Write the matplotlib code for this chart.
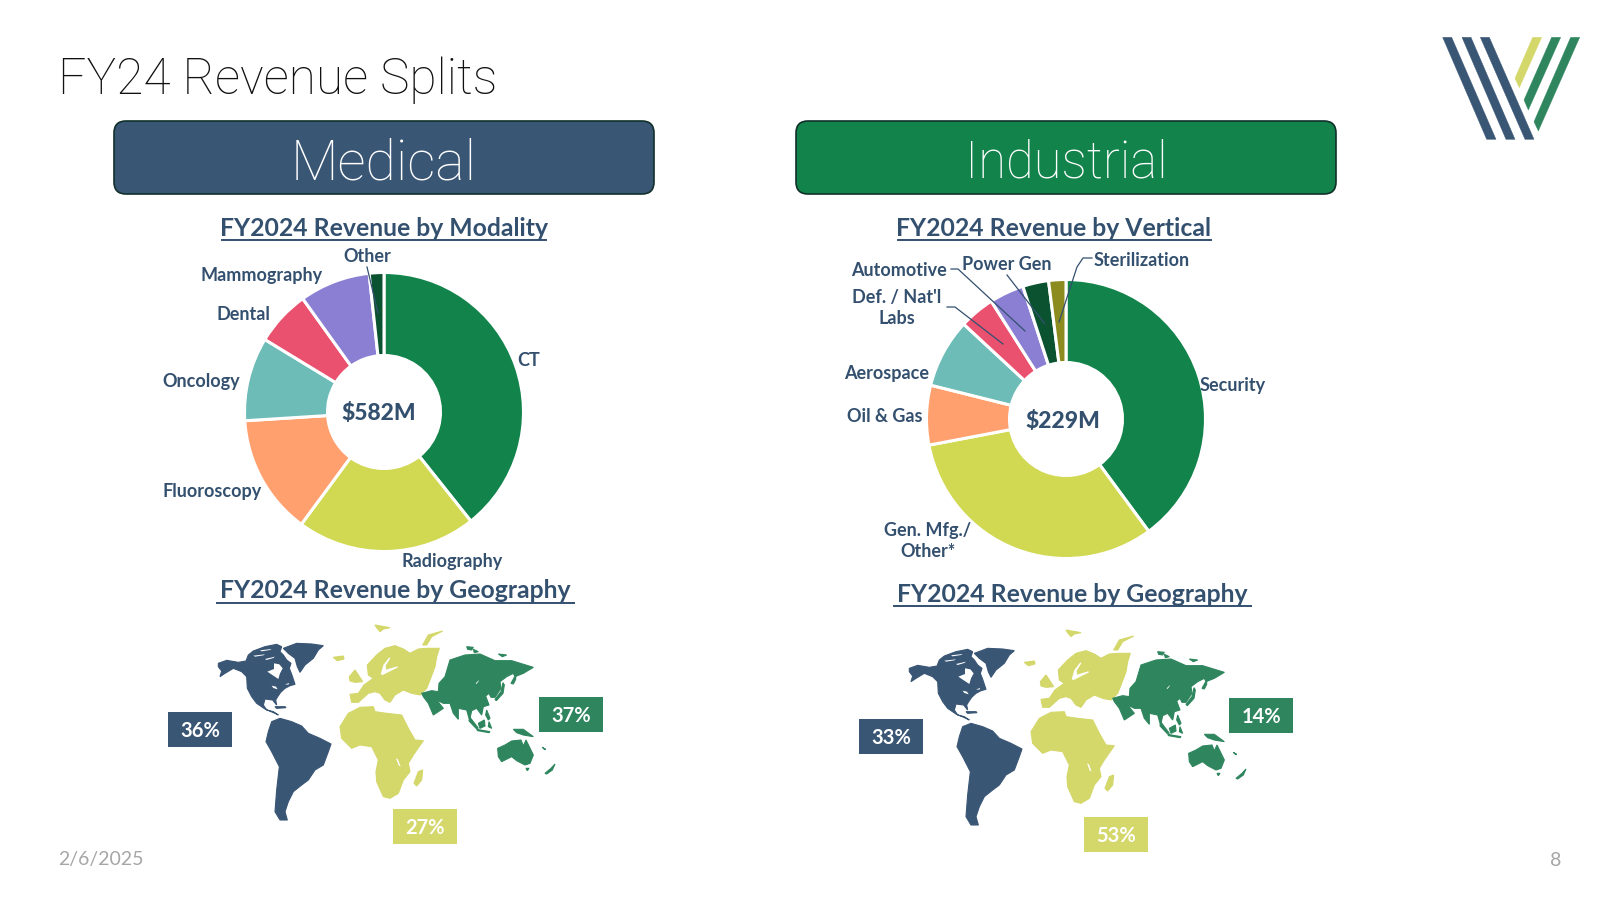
import matplotlib
matplotlib.use("Agg")
import matplotlib.pyplot as plt
from matplotlib.patches import FancyBboxPatch, Polygon, Rectangle

W, H = 1600, 900
NAVY = "#3A5675"
TEXT = "#34506F"
MAP_GREEN = "#2F865E"
MAP_YELLOW = "#D4D76A"
plt.rcParams["font.family"] = ["Lato", "DejaVu Sans"]

# donut data, share of revenue in %
med_names = ["CT", "Radiography", "Fluoroscopy", "Oncology", "Dental", "Mammography", "Other"]
med_values = [39.3, 20.8, 13.9, 9.7, 6.4, 8.2, 1.7]
med_colors = ["#12834B", "#D1D851", "#FFA06E", "#6DBCB8", "#EA516F", "#8A7FD3", "#0A5230"]

ind_names = ["Security", "Gen. Mfg./\nOther*", "Oil & Gas", "Aerospace", "Def. / Nat'l\nLabs",
             "Automotive", "Power Gen", "Sterilization"]
ind_values = [39.9, 32.1, 6.9, 8.0, 4.1, 4.0, 3.0, 2.0]
ind_colors = ["#12834B", "#D1D851", "#FFA06E", "#6DBCB8", "#EA516F", "#8A7FD3", "#0A5230", "#8B8B20"]

# label centres in pixels
med_label_xy = [(529, 361), (452, 562), (212, 492), (201, 382), (243, 315), (262, 276), (367, 256)]
ind_label_xy = [(1233, 386), (928, 541), (885, 416), (887, 374), (897, 308), (899, 271), (1007, 264), (1142, 260)]

geo_labels = ["Americas", "EMEA", "APAC"]
med_geo = [36, 27, 37]
ind_geo = [33, 53, 14]
geo_colors = [NAVY, MAP_YELLOW, MAP_GREEN]
med_geo_boxes = [(168, 712), (393, 809), (539, 697)]
ind_geo_boxes = [(859, 719), (1084, 817), (1229, 698)]

north_america = [
    [(25, 85), (50, 76), (85, 82), (108, 78), (115, 60), (130, 48), (165, 35), (200, 28), (215, 35), (210, 50),
     (220, 60), (230, 75), (243, 85), (238, 100), (245, 118), (255, 148), (240, 152), (225, 160), (212, 172),
     (203, 185), (197, 195), (200, 210), (188, 195), (165, 192), (160, 210), (170, 225), (190, 230), (205, 240),
     (195, 235), (165, 222), (140, 205), (125, 185), (112, 160), (110, 125), (95, 110), (70, 100), (45, 115),
     (30, 125), (35, 108), (25, 95)],
    [(220, 40), (260, 25), (305, 27), (340, 32), (325, 45), (310, 70), (285, 90), (270, 112), (262, 95),
     (255, 70), (235, 55)],
    [(195, 215), (225, 215), (228, 218), (200, 220)],
]
north_america_holes = [
    [(172, 110), (192, 102), (192, 85), (208, 88), (218, 100), (210, 115), (205, 132), (190, 122)],
    [(130, 62), (165, 58), (160, 61), (135, 65)],
    [(165, 72), (195, 65), (190, 69), (170, 75)],
    [(150, 46), (185, 42), (180, 45), (155, 49)],
    [(185, 152), (198, 155), (203, 163), (190, 159)],
    [(225, 148), (238, 144), (235, 149)],
]
south_america = [
    [(335, 305), (360, 295), (395, 305), (425, 318), (445, 340), (480, 355), (513, 372), (505, 395), (490, 435),
     (465, 450), (445, 480), (425, 495), (400, 515), (385, 545), (375, 575), (382, 600), (360, 600), (345, 575),
     (350, 510), (358, 440), (335, 395), (318, 365), (325, 335)],
]
europe = [
    [(30, 208), (55, 205), (72, 180), (100, 160), (85, 150), (82, 120), (110, 90), (135, 70), (165, 62), (190, 72),
     (210, 85), (235, 72), (260, 70), (298, 70), (290, 95), (285, 125), (270, 165), (260, 190), (240, 210),
     (215, 205), (190, 195), (165, 210), (150, 232), (135, 225), (120, 205), (105, 200), (85, 205), (55, 232),
     (35, 232)],
    [(28, 155), (45, 135), (55, 150), (68, 170), (45, 172), (30, 168)],
    [(248, 60), (265, 30), (308, 18), (275, 35), (260, 60)],
    [(105, 0), (150, 8), (130, 12), (120, 20), (110, 8)],
    [(-20, 97), (10, 93), (12, 102), (-8, 107)],
]
europe_holes = [
    [(122, 148), (130, 120), (148, 97), (151, 100), (137, 122), (138, 134), (172, 124), (174, 127), (148, 140),
     (128, 150)],
]
africa = [
    [(540, 320), (565, 280), (600, 262), (640, 260), (645, 275), (680, 280), (725, 285), (745, 325), (765, 360),
     (790, 362), (760, 405), (745, 430), (750, 455), (730, 480), (715, 520), (690, 535), (670, 530), (650, 485),
     (648, 455), (655, 420), (635, 380), (600, 375), (575, 385), (545, 355)],
    [(775, 455), (788, 450), (785, 480), (770, 498), (762, 490)],
]
africa_holes = [
    [(708, 415), (714, 418), (722, 440), (716, 436)],
]
asia_pacific = [
    [(20, 160), (50, 152), (70, 155), (72, 130), (90, 110), (105, 60), (150, 45), (195, 42), (240, 62), (290, 62),
     (355, 82), (325, 100), (300, 110), (295, 100), (275, 110), (255, 125), (258, 145), (240, 172), (228, 172),
     (222, 160), (212, 168), (222, 195), (205, 200), (200, 225), (185, 205), (170, 212), (165, 235), (180, 260),
     (165, 245), (155, 210), (130, 205), (130, 238), (115, 220), (105, 190), (85, 190), (65, 180), (85, 205),
     (55, 225), (40, 190), (25, 170)],
    [(240, 178), (258, 155), (264, 128), (268, 135), (264, 160), (244, 182)],
    [(288, 130), (302, 105), (302, 118), (295, 132)],
    [(190, 250), (208, 240), (210, 258), (195, 265)],
    [(165, 232), (190, 265), (183, 265), (162, 242)],
    [(215, 210), (225, 235), (220, 240), (212, 225)],
    [(185, 268), (225, 275), (222, 278), (188, 272)],
    [(222, 245), (230, 265), (220, 260)],
    [(155, 20), (175, 22), (170, 30), (158, 28)],
    [(175, 28), (190, 35), (178, 38)],
    [(250, 42), (275, 45), (262, 50)],
    [(295, 268), (325, 268), (355, 290), (325, 285), (305, 278)],
    [(248, 325), (270, 315), (290, 303), (318, 300), (325, 318), (333, 300), (355, 345), (345, 370), (330, 375),
     (305, 362), (290, 350), (260, 365), (250, 350)],
    [(333, 385), (342, 385), (337, 392)],
    [(390, 400), (408, 385), (420, 372), (412, 390), (395, 402)],
    [(382, 322), (392, 328), (388, 328)],
]
asia_holes = [
    [(182, 130), (192, 120), (190, 125), (184, 132)],
]

# logo stripes (3x crop pixels)
logo_navy = [
    [(68, 37), (95, 37), (228, 343), (200, 343)],
    [(126, 37), (153, 37), (285, 343), (258, 343)],
    [(181, 37), (208, 37), (342, 343), (315, 343)],
]
logo_yellow = [[(338, 37), (365, 37), (298, 188), (285, 160)]]
logo_green = [
    [(395, 37), (422, 37), (325, 255), (312, 225)],
    [(452, 37), (479, 37), (355, 318), (342, 290)],
]

fig = plt.figure(figsize=(16, 9), dpi=100, facecolor="white")
ax = fig.add_axes([0, 0, 1, 1])
ax.set_xlim(0, W)
ax.set_ylim(H, 0)
ax.axis("off")


def draw_crop_shapes(shapes, color, x0, y0, lw=0.3):
    for shape in shapes:
        pts = [(x0 + px / 3, y0 + py / 3) for px, py in shape]
        ax.add_patch(Polygon(pts, closed=True, fc=color, ec=color, lw=lw, zorder=3))


def draw_map(x0, y0):
    # x0, y0 is where the slide crop (160, 620) sits for this map
    draw_crop_shapes(north_america, NAVY, x0 + 50, y0 + 15, 0.8)
    draw_crop_shapes(north_america_holes, "white", x0 + 50, y0 + 15, 0)
    draw_crop_shapes(south_america, NAVY, x0, y0, 0.8)
    draw_crop_shapes(europe, MAP_YELLOW, x0 + 180, y0 + 5, 0.8)
    draw_crop_shapes(europe_holes, "white", x0 + 180, y0 + 5, 0)
    draw_crop_shapes(africa, MAP_YELLOW, x0, y0, 0.8)
    draw_crop_shapes(africa_holes, "white", x0, y0, 0)
    draw_crop_shapes(asia_pacific, MAP_GREEN, x0 + 255, y0 + 20, 0.8)
    draw_crop_shapes(asia_holes, "white", x0 + 255, y0 + 20, 0)


def draw_donut(cx, cy, values, colors):
    R = 139.5
    pie_ax = fig.add_axes([(cx - R) / W, 1 - (cy + R) / H, 2 * R / W, 2 * R / H])
    pie_ax.pie(values, colors=colors, startangle=90, counterclock=False, radius=1,
               wedgeprops=dict(width=0.595, edgecolor="white", linewidth=2.2, clip_on=False))
    pie_ax.set_xlim(-1, 1)
    pie_ax.set_ylim(-1, 1)
    pie_ax.set_zorder(0)


def section_title(x, y, txt, width):
    ax.text(x, y, txt, ha="center", va="center", fontsize=17.8, fontweight="bold", color=TEXT)
    ax.plot([x - width / 2, x + width / 2], [y + 12, y + 12], color=TEXT, lw=1.4)


def header(x0, color, txt, size):
    box = FancyBboxPatch((x0, 121), 540, 73, boxstyle="round,pad=0,rounding_size=12", fc=color,
                         ec="#10302A", lw=1.2)
    ax.add_patch(box)
    ax.text(x0 + 270, 164, txt, ha="center", va="center", fontsize=size, family="Roboto", fontweight="light",
            color="white")


ax.set_zorder(2)
ax.patch.set_visible(False)

ax.text(58, 80, "FY24 Revenue Splits", ha="left", va="center", fontsize=35.7, family="Roboto", fontweight="light",
        color="#111111")
header(114, NAVY, "Medical", 40)
header(796, "#12834B", "Industrial", 36.5)

section_title(384, 228, "FY2024 Revenue by Modality", 324)
section_title(1054, 228, "FY2024 Revenue by Vertical", 313)
section_title(395, 591, "FY2024 Revenue by Geography", 357)
section_title(1072, 594, "FY2024 Revenue by Geography", 357)

draw_donut(384, 412, med_values, med_colors)
draw_donut(1066, 419, ind_values, ind_colors)

for name, (x, y) in zip(med_names, med_label_xy):
    ax.text(x, y, name, ha="center", va="center", fontsize=13, fontweight="bold", color=TEXT)
for name, (x, y) in zip(ind_names, ind_label_xy):
    ax.text(x, y, name, ha="center", va="center", fontsize=13, fontweight="bold", color=TEXT, linespacing=1.25)
ax.text(379, 413, "$582M", ha="center", va="center", fontsize=16.5, fontweight="black", color=TEXT)
ax.text(1063, 421, "$229M", ha="center", va="center", fontsize=16.5, fontweight="black", color=TEXT)

# leader lines
ax.plot([367, 378], [267, 313], color=TEXT, lw=0.9)
ax.plot([951, 958, 1025], [269, 269, 331], color=TEXT, lw=0.9)
ax.plot([1007, 1045], [275, 324], color=TEXT, lw=0.9)
ax.plot([1092, 1083, 1077, 1059], [258, 258, 267, 322], color=TEXT, lw=0.9)
ax.plot([947, 955, 1003], [307, 307, 344], color=TEXT, lw=0.9)

draw_map(160, 620)
draw_map(851, 625)

for boxes, shares in [(med_geo_boxes, med_geo), (ind_geo_boxes, ind_geo)]:
    for (x, y), share, color in zip(boxes, shares, geo_colors):
        ax.add_patch(Rectangle((x, y), 64, 35, fc=color, ec="none", zorder=4))
        ax.text(x + 32, y + 19, f"{share}%", ha="center", va="center", fontsize=14.5, fontweight="bold",
                color="white", zorder=5)

draw_crop_shapes(logo_navy, NAVY, 1420, 25)
draw_crop_shapes(logo_yellow, MAP_YELLOW, 1420, 25)
draw_crop_shapes(logo_green, MAP_GREEN, 1420, 25)

ax.text(58, 860, "2/6/2025", ha="left", va="center", fontsize=14, color="#A6A6A6")
ax.text(1556, 860, "8", ha="center", va="center", fontsize=14, color="#A6A6A6")

fig.savefig("out.png", dpi=100)
